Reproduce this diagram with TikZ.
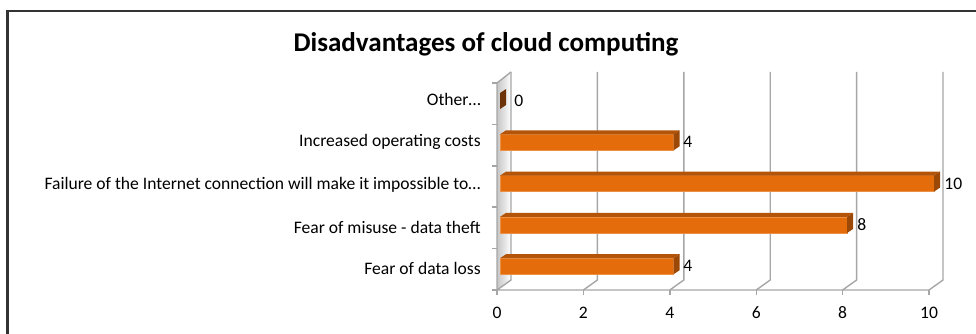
\documentclass[tikz,border=0pt]{standalone}
\usepackage{fontspec}
\setmainfont{Carlito}
\usetikzlibrary{positioning}

\definecolor{barfront}{HTML}{E46C0A}
\definecolor{bartop}{HTML}{B35408}
\definecolor{barside}{HTML}{9C4806}
\definecolor{barzero}{HTML}{6E3208}
\definecolor{gridgray}{HTML}{A6A6A6}
\definecolor{framegray}{HTML}{333333}

\begin{document}
\begin{tikzpicture}
  [
    x=0.02cm, y=-0.02cm,
    Grid/.style={draw=gridgray, line width=0.8pt},
    Front/.style={fill=barfront, draw=barfront!75!white, line width=0.3pt},
    Top/.style={fill=bartop},
    Side/.style={fill=barside},
    Cat/.style={anchor=east, font=\fontsize{10}{12}\selectfont, inner sep=0pt},
    Val/.style={anchor=west, font=\fontsize{10}{12}\selectfont, inner sep=0pt},
    Tick/.style={font=\fontsize{10}{12}\selectfont, inner sep=0pt}
  ]
  \useasboundingbox (0,0) rectangle (976,334);

  % Frame
  \draw[framegray, line width=1.7pt] (985,11) -- (7.5,11) -- (7.5,345);

  % Title
  \node[font=\fontsize{15.4}{18}\selectfont\bfseries] (title) at (486,44) {Disadvantages of cloud computing};

  % Wall
  \shade[left color=gray!45, right color=white] (497,290) -- (497,83) -- (511,72) -- (511,280) -- cycle;
  \draw[Grid] (497,290) -- (497,83) -- (511,72);

  % Grid
  \draw[Grid] (511,72) -- (511,280) -- (497,290) -- (929,290) -- (943,280) -- (943,72);
  \draw[Grid] (597.4,72) -- (597.4,280) -- (583.4,290);
  \draw[Grid] (683.8,72) -- (683.8,280) -- (669.8,290);
  \draw[Grid] (770.2,72) -- (770.2,280) -- (756.2,290);
  \draw[Grid] (856.6,72) -- (856.6,280) -- (842.6,290);

  % Ticks
  \draw[Grid] (497,290) -- (497,295);
  \draw[Grid] (583.4,290) -- (583.4,295);
  \draw[Grid] (669.8,290) -- (669.8,295);
  \draw[Grid] (756.2,290) -- (756.2,295);
  \draw[Grid] (842.6,290) -- (842.6,295);
  \draw[Grid] (929,290) -- (929,295);
  \draw[Grid] (492,83) -- (497,83);
  \draw[Grid] (492,124.4) -- (497,124.4);
  \draw[Grid] (492,165.8) -- (497,165.8);
  \draw[Grid] (492,207.2) -- (497,207.2);
  \draw[Grid] (492,248.6) -- (497,248.6);
  \draw[Grid] (492,290) -- (497,290);

  % Bars
  \fill[barzero] (500,93) -- (506,89) -- (506,105) -- (500,109) -- cycle;

  \path[Front] (500,134.3) rectangle (673.6,150.3);
  \path[Top] (500,134.3) -- (506,130.3) -- (679.6,130.3) -- (673.6,134.3) -- cycle;
  \path[Side] (673.6,134.3) -- (679.6,130.3) -- (679.6,146.3) -- (673.6,150.3) -- cycle;

  \path[Front] (500,175.6) rectangle (934,191.6);
  \path[Top] (500,175.6) -- (506,171.6) -- (940,171.6) -- (934,175.6) -- cycle;
  \path[Side] (934,175.6) -- (940,171.6) -- (940,187.6) -- (934,191.6) -- cycle;

  \path[Front] (500,216.9) rectangle (847.2,232.9);
  \path[Top] (500,216.9) -- (506,212.9) -- (853.2,212.9) -- (847.2,216.9) -- cycle;
  \path[Side] (847.2,216.9) -- (853.2,212.9) -- (853.2,228.9) -- (847.2,232.9) -- cycle;

  \path[Front] (500,258.2) rectangle (673.6,274.2);
  \path[Top] (500,258.2) -- (506,254.2) -- (679.6,254.2) -- (673.6,258.2) -- cycle;
  \path[Side] (673.6,258.2) -- (679.6,254.2) -- (679.6,270.2) -- (673.6,274.2) -- cycle;

  % Categories
  \node[Cat] (other) at (481,99) {Other\dots};
  \node[Cat] (costs) at (481,142) {Increased operating costs};
  \node[Cat] (failure) at (481,185) {Failure of the Internet connection will make it impossible to\dots};
  \node[Cat] (misuse) at (481,227) {Fear of misuse - data theft};
  \node[Cat] (loss) at (481,268) {Fear of data loss};

  % Values
  \node[Val] (v0) at (514,101) {0};
  \node[Val] (v1) at (683,142) {4};
  \node[Val] (v2) at (944,184) {10};
  \node[Val] (v3) at (857,225) {8};
  \node[Val] (v4) at (683,266) {4};

  % Axis labels
  \node[Tick] (t0) at (497,313) {0};
  \node[Tick] (t2) at (583.4,313) {2};
  \node[Tick] (t4) at (669.8,313) {4};
  \node[Tick] (t6) at (756.2,313) {6};
  \node[Tick] (t8) at (842.6,313) {8};
  \node[Tick] (t10) at (929,313) {10};

\end{tikzpicture}
\end{document}
